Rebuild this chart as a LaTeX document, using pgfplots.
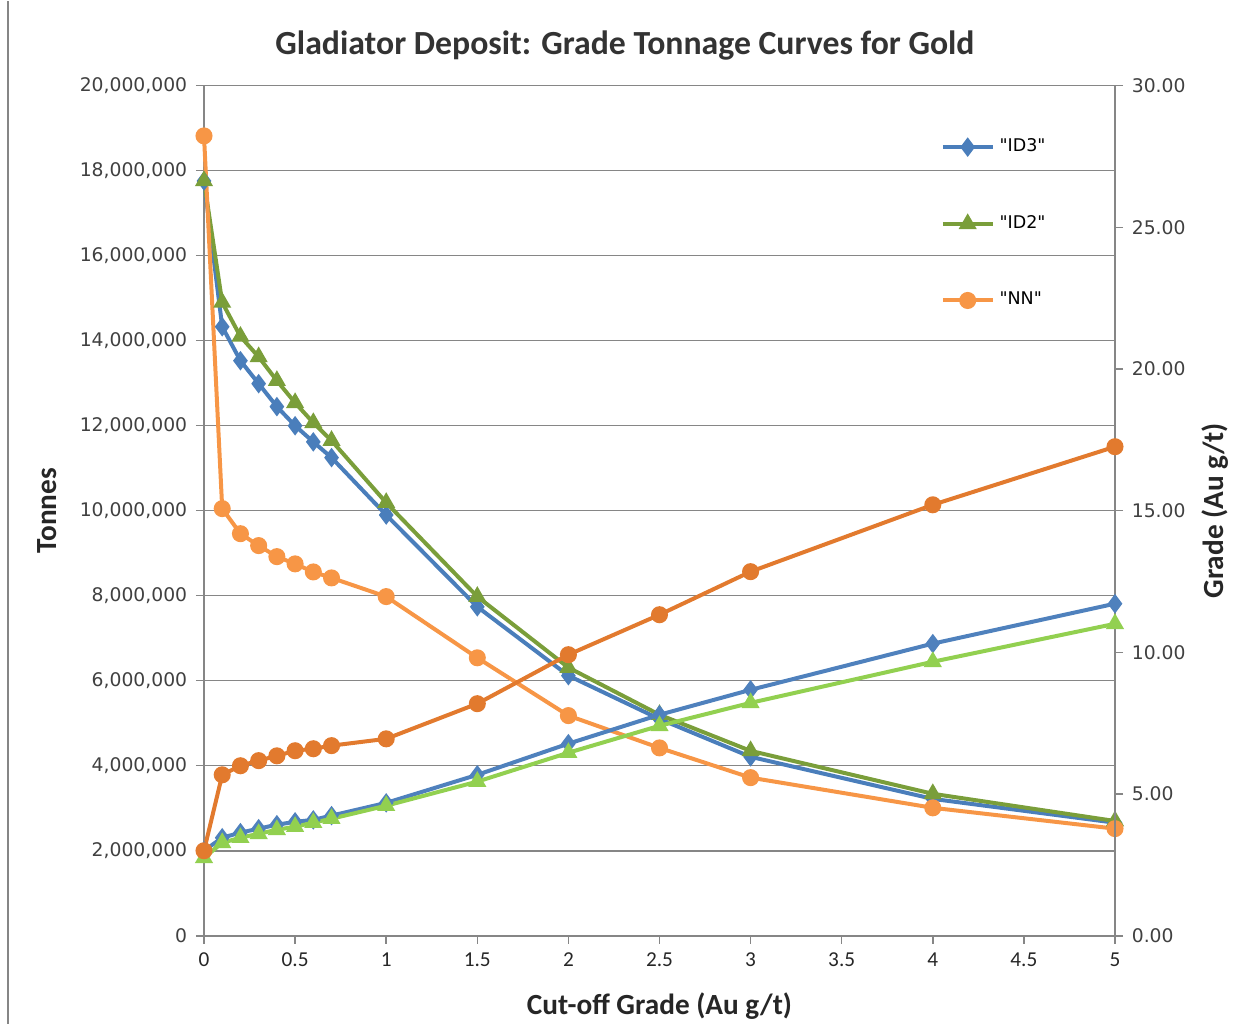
\documentclass[border=0pt]{standalone}
\usepackage{pgfplots}
\pgfplotsset{compat=1.18}
\usepackage{fontspec}
\setmainfont{Carlito}
\newfontfamily\verd{DejaVu Sans}

\definecolor{tblue}{RGB}{74,126,187}
\definecolor{tgreen}{RGB}{122,158,58}
\definecolor{torange}{RGB}{247,150,70}
\definecolor{gblue}{RGB}{79,129,189}
\definecolor{ggreen}{RGB}{146,208,80}
\definecolor{gorange}{RGB}{226,122,46}
\definecolor{axgray}{RGB}{134,134,134}

\pgfplotsset{
  common/.style={
    scale only axis, width=364.4pt, height=340pt,
    xmin=0, xmax=5, clip=false,
    tick align=outside, major tick length=3.2pt,
    tick style={axgray, line width=0.6pt},
    axis line style={axgray, line width=0.6pt},
    /pgf/number format/assume math mode=true,
    every axis plot/.append style={line width=1.6pt},
  },
}

\begin{document}
\begin{tikzpicture}
\begin{axis}[common, name=ax,
  ymin=0, ymax=20000000,
  axis x line*=bottom, axis y line*=left,
  xtick={0,0.5,1,1.5,2,2.5,3,3.5,4,4.5,5},
  ytick={0,2000000,4000000,6000000,8000000,10000000,12000000,14000000,16000000,18000000,20000000},
  scaled y ticks=false,
  yticklabel style={font=\verd\fontsize{7.5}{9}\selectfont, color=black!75,
    /pgf/number format/.cd, fixed, precision=0, 1000 sep={,}},
  xticklabel style={font=\fontsize{8.5}{10}\selectfont, color=black!85},
  ymajorgrids, grid style={axgray, line width=0.6pt},
  legend style={at={(0.80,0.95)}, anchor=north west, draw=none, fill=none,
    font=\verd\fontsize{7}{8}\selectfont, row sep=20pt},
  legend cell align=left,
  legend image code/.code={
    \draw[mark repeat=2, mark phase=2, #1] plot coordinates {(0cm,0cm) (0.35cm,0cm) (0.7cm,0cm)};},
]
% tonnage curves
\addplot[color=tblue, mark=diamond*, mark size=2.6pt] coordinates {
 (0,17760000) (0.1,14330000) (0.2,13530000) (0.3,12990000) (0.4,12450000)
 (0.5,12000000) (0.6,11620000) (0.7,11250000) (1,9900000) (1.5,7740000)
 (2,6120000) (2.5,5100000) (3,4210000) (4,3220000) (5,2660000)};
\addlegendentry{"ID3"}
\addplot[color=tgreen, mark=triangle*, mark size=2.6pt] coordinates {
 (0,17760000) (0.1,14900000) (0.2,14100000) (0.3,13620000) (0.4,13060000)
 (0.5,12540000) (0.6,12070000) (0.7,11650000) (1,10190000) (1.5,7980000)
 (2,6310000) (2.5,5200000) (3,4350000) (4,3340000) (5,2700000)};
\addlegendentry{"ID2"}
\addplot[color=torange, mark=*, mark size=2.6pt] coordinates {
 (0,18820000) (0.1,10050000) (0.2,9460000) (0.3,9180000) (0.4,8920000)
 (0.5,8750000) (0.6,8560000) (0.7,8420000) (1,7980000) (1.5,6540000)
 (2,5180000) (2.5,4420000) (3,3720000) (4,3010000) (5,2520000)};
\addlegendentry{"NN"}
\end{axis}

\begin{axis}[common,
  ymin=0, ymax=30,
  axis x line=none, axis y line*=right,
  ytick={0,5,10,15,20,25,30},
  yticklabel style={font=\verd\fontsize{7.5}{9}\selectfont, color=black!75,
    /pgf/number format/.cd, fixed, fixed zerofill, precision=2},
]
% grade curves
\addplot[color=gblue, mark=diamond*, mark size=2.6pt] coordinates {
 (0,3.00) (0.1,3.46) (0.2,3.64) (0.3,3.78) (0.4,3.92) (0.5,4.02) (0.6,4.09)
 (0.7,4.24) (1,4.69) (1.5,5.68) (2,6.78) (2.5,7.80) (3,8.68) (4,10.31) (5,11.72)};
\addplot[color=ggreen, mark=triangle*, mark size=2.6pt] coordinates {
 (0,2.75) (0.1,3.28) (0.2,3.46) (0.3,3.60) (0.4,3.74) (0.5,3.85) (0.6,3.99)
 (0.7,4.13) (1,4.59) (1.5,5.44) (2,6.46) (2.5,7.41) (3,8.22) (4,9.67) (5,11.01)};
\addplot[color=gorange, mark=*, mark size=2.6pt] coordinates {
 (0,3.00) (0.1,5.68) (0.2,6.00) (0.3,6.18) (0.4,6.35) (0.5,6.53) (0.6,6.60)
 (0.7,6.71) (1,6.95) (1.5,8.19) (2,9.92) (2.5,11.33) (3,12.85) (4,15.21) (5,17.26)};
\end{axis}

\node[font=\bfseries\fontsize{13.5}{16}\selectfont, text=black!80] at ([xshift=-13.8pt,yshift=16pt]ax.north) {Gladiator Deposit: Grade Tonnage Curves for Gold};
\node[font=\bfseries\fontsize{11.7}{14}\selectfont, text=black!85] at ([yshift=-28pt]ax.south) {Cut-off Grade (Au g/t)};
\node[font=\bfseries\fontsize{11.7}{14}\selectfont, text=black!85, rotate=90] at ([xshift=-62.8pt]ax.west) {Tonnes};
\node[font=\bfseries\fontsize{11.7}{14}\selectfont, text=black!85, rotate=90] at ([xshift=40pt]ax.east) {Grade (Au g/t)};

\draw[axgray, line width=0.6pt] ([xshift=-78.4pt,yshift=-35.2pt]ax.south west) -- ([xshift=-78.4pt,yshift=34pt]ax.north west);

\path[use as bounding box] ([xshift=-81.6pt,yshift=-35.2pt]ax.south west) rectangle ([xshift=54pt,yshift=34pt]ax.north east);
\end{tikzpicture}
\end{document}
